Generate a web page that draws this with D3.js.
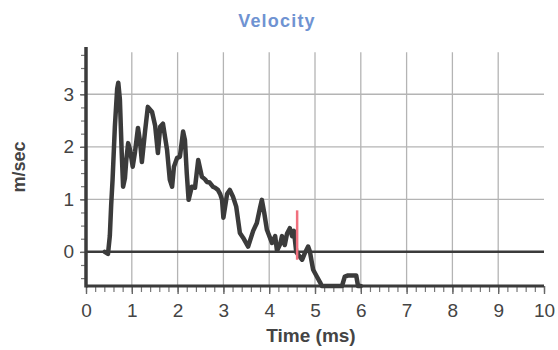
<!DOCTYPE html>
<html>
<head>
<meta charset="utf-8">
<script src="https://cdn.jsdelivr.net/npm/d3@7"></script>
<style>
  body { margin: 0; background: #fff; }
  text { font-family: "Liberation Sans", Arial, sans-serif; }
</style>
</head>
<body>
<svg id="chart" width="558" height="350"></svg>
<script>
const svg = d3.select("#chart");

// trace: time (ms) / velocity (m/sec)
const time = [0.41, 0.48, 0.52, 0.55, 0.58, 0.63, 0.68, 0.705, 0.74, 0.78, 0.81, 0.85, 0.88, 0.92, 0.96,
  1.02, 1.07, 1.135, 1.18, 1.22, 1.29, 1.35, 1.44, 1.51, 1.57, 1.62, 1.68, 1.77, 1.83, 1.88, 1.92,
  1.99, 2.05, 2.12, 2.16, 2.2, 2.24, 2.31, 2.38, 2.45, 2.53, 2.6, 2.64, 2.7, 2.77, 2.82, 2.88, 2.93,
  2.97, 3.0, 3.08, 3.14, 3.21, 3.28, 3.36, 3.43, 3.54, 3.65, 3.73, 3.8, 3.84, 3.89, 3.95, 4.06,
  4.13, 4.17, 4.24, 4.28, 4.34, 4.39, 4.45, 4.5, 4.54, 4.59, 4.63, 4.72, 4.78, 4.85, 4.89, 4.93,
  4.96, 5.04, 5.11, 5.15, 5.59, 5.65, 5.72, 5.9, 5.94, 6.0];
const velocity = [0, -0.04, 0.3, 0.9, 1.37, 2.38, 3.1, 3.22, 2.9, 1.88, 1.24, 1.4, 1.75, 2.07, 1.95,
  1.62, 1.9, 2.36, 2.1, 1.71, 2.3, 2.76, 2.67, 2.4, 1.88, 2.38, 2.44, 1.94, 1.37, 1.24, 1.62,
  1.79, 1.81, 2.29, 2.13, 1.5, 0.99, 1.24, 1.22, 1.75, 1.43, 1.38, 1.33, 1.32, 1.24, 1.22, 1.18, 1.1,
  0.99, 0.65, 1.1, 1.18, 1.05, 0.86, 0.36, 0.27, 0.1, 0.4, 0.55, 0.84, 0.99, 0.75, 0.42, 0.17,
  0.3, 0.02, 0.15, 0.3, 0.13, 0.35, 0.45, 0.3, 0.4, 0.0, -0.05, -0.15, -0.02, 0.1, 0.0, -0.2,
  -0.34, -0.47, -0.58, -0.65, -0.65, -0.47, -0.45, -0.45, -0.65, -0.65];

// red marker
const markerTime = 4.61;
const markerRange = [0.79, -0.15];

const xTicks = [0, 1, 2, 3, 4, 5, 6, 7, 8, 9, 10];
const yTicks = [0, 1, 2, 3];

const x = d3.scaleLinear().domain([0, 10]).range([86, 544]);
const y = d3.scaleLinear().domain([-0.65, 3.9]).range([286, 47]);

const INK = "#3b3b3b";
const GRID = "#b4b4b4";

// grid
svg.append("g")
  .selectAll("line")
  .data(xTicks.slice(1, -1))
  .enter()
  .append("line")
  .attr("x1", d => x(d)).attr("x2", d => x(d))
  .attr("y1", y(3.8)).attr("y2", y(-0.65))
  .attr("stroke", GRID).attr("stroke-width", 1.3);

svg.append("g")
  .selectAll("line")
  .data(yTicks.slice(1))
  .enter()
  .append("line")
  .attr("x1", x(0)).attr("x2", x(10))
  .attr("y1", d => y(d)).attr("y2", d => y(d))
  .attr("stroke", GRID).attr("stroke-width", 1.3);

// zero line
svg.append("line")
  .attr("x1", x(0)).attr("x2", x(10))
  .attr("y1", y(0)).attr("y2", y(0))
  .attr("stroke", INK).attr("stroke-width", 2.5);

// minor ticks
const xMinor = d3.range(0, 50.5).map(i => i / 5);
const yMinor = d3.range(-2, 16).map(i => i / 4);

svg.append("g")
  .attr("transform", `translate(0,${y(-0.65)})`)
  .call(d3.axisBottom(x).tickValues(xMinor).tickSize(6).tickFormat(""))
  .call(g => g.select(".domain").remove())
  .call(g => g.selectAll(".tick line").attr("stroke", "#777").attr("stroke-width", 1.2));

svg.append("g")
  .attr("transform", `translate(${x(0)},0)`)
  .call(d3.axisLeft(y).tickValues(yMinor).tickSize(5).tickFormat(""))
  .call(g => g.select(".domain").remove())
  .call(g => g.selectAll(".tick line").attr("stroke", "#777").attr("stroke-width", 1.2));

// major axes
svg.append("g")
  .attr("transform", `translate(0,${y(-0.65)})`)
  .call(d3.axisBottom(x).tickValues(xTicks).tickSize(8).tickPadding(10).tickFormat(d3.format("d")))
  .call(g => g.select(".domain").remove())
  .call(g => g.selectAll(".tick line").attr("stroke", "#666").attr("stroke-width", 1.4))
  .call(g => g.selectAll(".tick text")
    .attr("font-size", 19).attr("fill", "#444").attr("font-family", "Liberation Sans, Arial, sans-serif"));

svg.append("g")
  .attr("transform", `translate(${x(0)},0)`)
  .call(d3.axisLeft(y).tickValues(yTicks).tickSize(6).tickPadding(6).tickFormat(d3.format("d")))
  .call(g => g.select(".domain").remove())
  .call(g => g.selectAll(".tick line").attr("stroke", "#666").attr("stroke-width", 1.4))
  .call(g => g.selectAll(".tick text")
    .attr("font-size", 19).attr("fill", "#444").attr("font-family", "Liberation Sans, Arial, sans-serif"));

// axis lines
svg.append("line")
  .attr("x1", x(0)).attr("x2", x(10))
  .attr("y1", y(-0.65)).attr("y2", y(-0.65))
  .attr("stroke", INK).attr("stroke-width", 3);

svg.append("line")
  .attr("x1", x(0)).attr("x2", x(0))
  .attr("y1", y(3.9)).attr("y2", y(-0.65) + 1.5)
  .attr("stroke", INK).attr("stroke-width", 3.5);

// trace
const line = d3.line()
  .x(d => x(d[0]))
  .y(d => y(d[1]));

svg.append("path")
  .datum(time.map((t, i) => [t, velocity[i]]))
  .attr("d", line)
  .attr("fill", "none")
  .attr("stroke", INK)
  .attr("stroke-width", 4.5)
  .attr("stroke-linejoin", "round")
  .attr("stroke-linecap", "round");

// red marker
svg.append("line")
  .attr("x1", x(markerTime)).attr("x2", x(markerTime))
  .attr("y1", y(markerRange[0])).attr("y2", y(markerRange[1]))
  .attr("stroke", "#f0707e").attr("stroke-width", 2.5);

// titles
svg.append("text")
  .attr("x", 277).attr("y", 27)
  .attr("text-anchor", "middle")
  .attr("font-size", 18).attr("font-weight", "bold")
  .attr("letter-spacing", 1.2)
  .attr("fill", "#6f93d2")
  .text("Velocity");

svg.append("text")
  .attr("x", 311).attr("y", 342)
  .attr("text-anchor", "middle")
  .attr("font-size", 19).attr("font-weight", "bold")
  .attr("fill", "#444")
  .text("Time (ms)");

svg.append("text")
  .attr("transform", "translate(25,167) rotate(-90)")
  .attr("text-anchor", "middle")
  .attr("font-size", 18).attr("font-weight", "bold")
  .attr("fill", "#444")
  .text("m/sec");
</script>
</body>
</html>
